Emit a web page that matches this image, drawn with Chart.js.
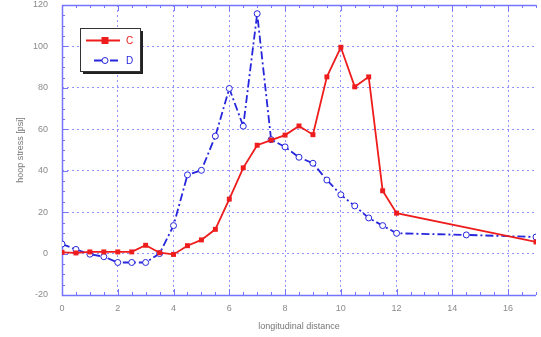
<!DOCTYPE html>
<html>
<head>
<meta charset="utf-8">
<script src="https://cdn.jsdelivr.net/npm/chart.js@4.4.1/dist/chart.umd.min.js"></script>
<style>
  html, body { margin: 0; padding: 0; background: #fff; }
  #wrap { width: 541px; height: 337px; }
</style>
</head>
<body>
<div id="wrap"><canvas id="c"></canvas></div>
<script>
// Hoop stress along the longitudinal distance, series C and D
const distanceC = [0, 0.5, 1, 1.5, 2, 2.5, 3, 3.5, 4, 4.5, 5, 5.5, 6, 6.5, 7, 7.5, 8, 8.5, 9, 9.5, 10, 10.5, 11, 11.5, 12, 17];
const stressC   = [0.6, 0.3, 0.8, 0.8, 0.8, 0.8, 4, 0.4, -0.4, 3.8, 6.6, 11.7, 26.3, 41.4, 52.3, 54.8, 57.2, 61.6, 57.4, 85.3, 99.6, 80.5, 85.3, 30.3, 19.5, 5.6];

const distanceD = [0, 0.5, 1, 1.5, 2, 2.5, 3, 3.5, 4, 4.5, 5, 5.5, 6, 6.5, 7, 7.5, 8, 8.5, 9, 9.5, 10, 10.5, 11, 11.5, 12, 14.5, 17];
const stressD   = [4.6, 2, -0.3, -1.5, -4.3, -4.3, -4.3, 0, 13.5, 38, 40.2, 56.7, 79.7, 61.5, 115.8, 55, 51.5, 46.5, 43.6, 35.5, 28.4, 23, 17.2, 13.5, 9.8, 9, 8];

const xTickValues = [0, 2, 4, 6, 8, 10, 12, 14, 16];
const yTickValues = [-20, 0, 20, 40, 60, 80, 100, 120];

const seriesNames = ['C', 'D'];
const xTitle = 'longitudinal distance';
const yTitle = 'hoop stress [psi]';

const RED = '#ee1c1c';
const BLUE = '#2626dc';
const AXIS = '#7474ff';
const GRID = 'rgba(110,110,255,0.75)';
const LABEL = '#8a8a8a';
const FONT = "'Liberation Sans', Arial, sans-serif";

const toPoints = (xs, ys) => xs.map((x, i) => ({ x, y: ys[i] }));

// Axis frame with major and minor tick marks pointing into the plot
const framePlugin = {
  id: 'frame',
  beforeDatasetsDraw(chart) {
    const { ctx, chartArea: a, scales: { x, y } } = chart;
    ctx.save();
    ctx.strokeStyle = AXIS;
    ctx.lineWidth = 1;
    ctx.beginPath();
    for (let v = x.min; v <= x.max + 1e-9; v += 0.5) {
      const px = Math.round(x.getPixelForValue(v)) + 0.5;
      const len = Math.abs(v % 2) < 1e-9 ? 6 : 3;
      ctx.moveTo(px, a.bottom); ctx.lineTo(px, a.bottom - len);
      ctx.moveTo(px, a.top); ctx.lineTo(px, a.top + len);
    }
    for (let v = y.min; v <= y.max + 1e-9; v += 5) {
      const py = Math.round(y.getPixelForValue(v)) + 0.5;
      const len = Math.abs(v % 20) < 1e-9 ? 6 : 3;
      ctx.moveTo(a.left, py); ctx.lineTo(a.left + len, py);
    }
    ctx.stroke();
    ctx.lineWidth = 1.5;
    ctx.beginPath();
    ctx.moveTo(a.right, a.top + 0.5);
    ctx.lineTo(a.left + 0.5, a.top + 0.5);
    ctx.lineTo(a.left + 0.5, a.bottom + 0.5);
    ctx.lineTo(a.right, a.bottom + 0.5);
    ctx.stroke();
    ctx.restore();
  }
};

// Boxed legend with a drop shadow inside the plot
const legendBoxPlugin = {
  id: 'legendBox',
  afterDraw(chart) {
    const { ctx, chartArea: a } = chart;
    const bx = a.left + 18, by = a.top + 23, bw = 60, bh = 43;
    ctx.save();
    ctx.fillStyle = '#222';
    ctx.fillRect(bx + 3, by + 3, bw, bh);
    ctx.fillStyle = '#fff';
    ctx.fillRect(bx, by, bw, bh);
    ctx.strokeStyle = '#333';
    ctx.lineWidth = 1;
    ctx.strokeRect(bx + 0.5, by + 0.5, bw, bh);

    chart.data.datasets.forEach((ds, i) => {
      const ly = by + 12.5 + i * 20;
      const x0 = i === 0 ? bx + 6 : bx + 14;
      const x1 = bx + 40;
      ctx.strokeStyle = ds.borderColor;
      ctx.lineWidth = ds.borderWidth;
      ctx.setLineDash(ds.borderDash || []);
      ctx.beginPath();
      ctx.moveTo(x0, ly); ctx.lineTo(x1, ly);
      ctx.stroke();
      ctx.setLineDash([]);
      const cx = bx + 25;
      if (ds.pointStyle === 'rect') {
        ctx.fillStyle = ds.pointBackgroundColor;
        ctx.fillRect(cx - 3.5, ly - 3.5, 7, 7);
      } else {
        ctx.fillStyle = ds.pointBackgroundColor;
        ctx.strokeStyle = ds.pointBorderColor;
        ctx.lineWidth = 1;
        ctx.beginPath();
        ctx.arc(cx, ly, 3, 0, Math.PI * 2);
        ctx.fill();
        ctx.stroke();
      }
      ctx.fillStyle = ds.borderColor;
      ctx.font = '10px ' + FONT;
      ctx.textBaseline = 'middle';
      ctx.textAlign = 'left';
      ctx.fillText(ds.label, bx + 46, ly + 1);
    });
    ctx.restore();
  }
};

new Chart(document.getElementById('c'), {
  type: 'line',
  data: {
    datasets: [
      {
        label: seriesNames[0],
        data: toPoints(distanceC, stressC),
        borderColor: RED,
        borderWidth: 1.8,
        pointStyle: 'rect',
        pointRadius: 3.5,
        pointBackgroundColor: RED,
        pointBorderColor: RED,
        pointBorderWidth: 0,
        tension: 0
      },
      {
        label: seriesNames[1],
        data: toPoints(distanceD, stressD),
        borderColor: BLUE,
        borderWidth: 1.8,
        borderDash: [8, 3, 2, 3],
        pointStyle: 'circle',
        pointRadius: 3,
        pointBackgroundColor: '#fff',
        pointBorderColor: BLUE,
        pointBorderWidth: 1,
        tension: 0
      }
    ]
  },
  options: {
    responsive: true,
    maintainAspectRatio: false,
    animation: false,
    devicePixelRatio: 1,
    layout: { padding: { top: 5, right: 1, left: 0, bottom: 0 } },
    plugins: { legend: { display: false }, tooltip: { enabled: false } },
    scales: {
      x: {
        type: 'linear',
        min: 0,
        max: 17,
        afterBuildTicks: s => { s.ticks = xTickValues.map(v => ({ value: v })); },
        afterFit: s => { s.height = 42; s.paddingLeft = 0; s.paddingRight = 0; },
        grid: {
          color: GRID,
          lineWidth: 1,
          drawTicks: false
        },
        border: { display: false, dash: [2, 3] },
        ticks: {
          color: LABEL,
          padding: 8,
          maxRotation: 0,
          font: { family: FONT, size: 9 }
        },
        title: {
          display: true,
          text: xTitle,
          color: '#777',
          font: { family: FONT, size: 9 },
          padding: { top: 0, bottom: 4.6 }
        }
      },
      y: {
        type: 'linear',
        min: -20,
        max: 120,
        afterBuildTicks: s => { s.ticks = yTickValues.map(v => ({ value: v })); },
        afterFit: s => { s.width = 62; s.paddingTop = 0; s.paddingBottom = 0; },
        grid: {
          color: GRID,
          lineWidth: 1,
          drawTicks: false
        },
        border: { display: false, dash: [2, 3] },
        ticks: {
          color: LABEL,
          padding: 14,
          font: { family: FONT, size: 9 }
        },
        title: {
          display: true,
          text: yTitle,
          color: '#777',
          font: { family: FONT, size: 9 },
          padding: { top: 15.5, bottom: 0 }
        }
      }
    }
  },
  plugins: [framePlugin, legendBoxPlugin]
});
</script>
</body>
</html>
